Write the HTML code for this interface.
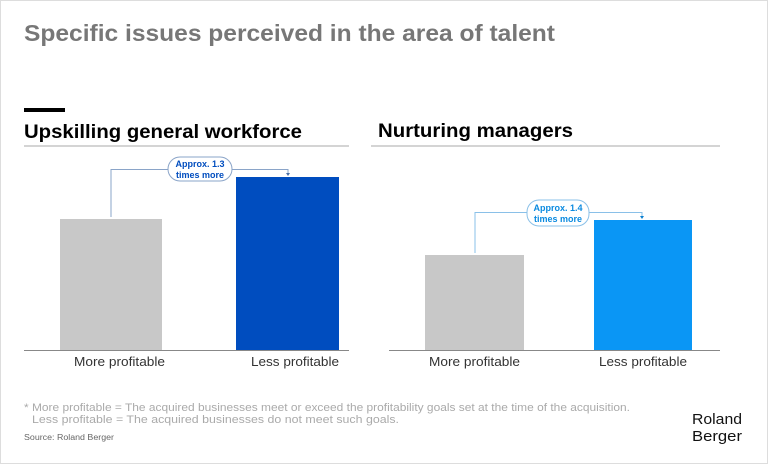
<!DOCTYPE html>
<html><head><meta charset="utf-8"><style>
body{margin:0;width:768px;height:464px;overflow:hidden;background:#fff;font-family:"Liberation Sans",sans-serif;}
</style></head><body>
<svg width="768" height="464" xmlns="http://www.w3.org/2000/svg" style="font-family:'Liberation Sans',sans-serif">
<rect x="0.5" y="0.5" width="767" height="463" fill="#fff" stroke="#ddd"/>
<text x="24" y="41" font-size="23" font-weight="bold" fill="#777" textLength="531" lengthAdjust="spacingAndGlyphs">Specific issues perceived in the area of talent</text>
<rect x="24" y="108" width="41" height="4" fill="#000"/>
<text x="24" y="138" font-size="19" font-weight="bold" fill="#000" textLength="278" lengthAdjust="spacingAndGlyphs">Upskilling general workforce</text>
<line x1="24" y1="146" x2="349" y2="146" stroke="#aaa"/>
<text x="378" y="137" font-size="19" font-weight="bold" fill="#000" textLength="195" lengthAdjust="spacingAndGlyphs">Nurturing managers</text>
<line x1="371" y1="146" x2="720" y2="146" stroke="#aaa"/>

<rect x="60" y="219" width="102" height="131" fill="#c8c8c8"/>
<rect x="236" y="177" width="103" height="173" fill="#004dbf"/>
<line x1="24" y1="350.5" x2="349" y2="350.5" stroke="#888"/>
<text x="74" y="366" font-size="12.5" fill="#333" textLength="91" lengthAdjust="spacingAndGlyphs">More profitable</text>
<text x="251" y="366" font-size="12.5" fill="#333" textLength="88" lengthAdjust="spacingAndGlyphs">Less profitable</text>
<polyline points="111,217 111,169.5 288,169.5 288,175" fill="none" stroke="#8aa4c8"/>
<path d="M286,173 L288,176 L290,173Z" fill="#4a6fa5"/>
<rect x="168" y="157" width="64" height="24" rx="12" fill="#fff" stroke="#8aa4c8"/>
<text x="200" y="167" font-size="9" font-weight="bold" fill="#004dbf" text-anchor="middle">Approx. 1.3</text>
<text x="200" y="178" font-size="9" font-weight="bold" fill="#004dbf" text-anchor="middle">times more</text>

<rect x="425" y="255" width="99" height="95" fill="#c8c8c8"/>
<rect x="594" y="220" width="98" height="130" fill="#0a96f5"/>
<line x1="389" y1="350.5" x2="720" y2="350.5" stroke="#888"/>
<text x="429" y="366" font-size="12.5" fill="#333" textLength="91" lengthAdjust="spacingAndGlyphs">More profitable</text>
<text x="599" y="366" font-size="12.5" fill="#333" textLength="88" lengthAdjust="spacingAndGlyphs">Less profitable</text>
<polyline points="475,253 475,212.5 642,212.5 642,218" fill="none" stroke="#8ac0e8"/>
<path d="M640,216 L642,219 L644,216Z" fill="#0a7fd0"/>
<rect x="527" y="200" width="62" height="26" rx="12" fill="#fff" stroke="#8ac0e8"/>
<text x="558" y="211" font-size="9" font-weight="bold" fill="#0a8ae0" text-anchor="middle">Approx. 1.4</text>
<text x="558" y="222" font-size="9" font-weight="bold" fill="#0a8ae0" text-anchor="middle">times more</text>

<text x="24" y="411" font-size="11" fill="#aaa" textLength="606" lengthAdjust="spacingAndGlyphs">* More profitable = The acquired businesses meet or exceed the profitability goals set at the time of the acquisition.</text>
<text x="32" y="423" font-size="11" fill="#aaa" textLength="367" lengthAdjust="spacingAndGlyphs">Less profitable = The acquired businesses do not meet such goals.</text>
<text x="24" y="440" font-size="8" fill="#666" textLength="90" lengthAdjust="spacingAndGlyphs">Source: Roland Berger</text>
<text x="692" y="424" font-size="15" fill="#111" textLength="50" lengthAdjust="spacingAndGlyphs">Roland</text>
<text x="692" y="441" font-size="15" fill="#111" textLength="50" lengthAdjust="spacingAndGlyphs">Berger</text>
</svg>
</body></html>
